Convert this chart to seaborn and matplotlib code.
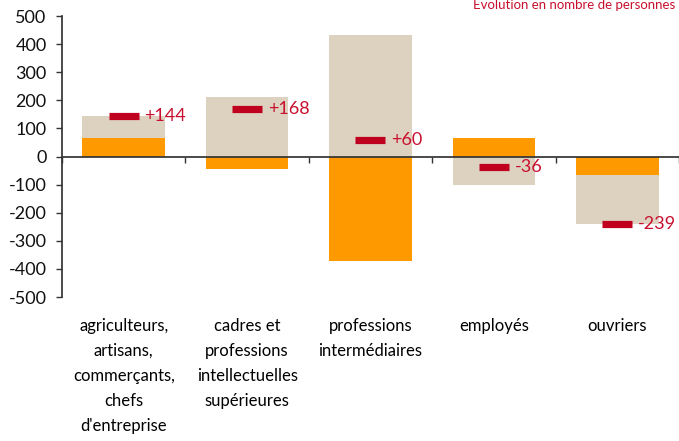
import matplotlib
matplotlib.use("Agg")
import matplotlib.pyplot as plt
import numpy as np
import seaborn as sns

# Data
categories = [
    "agriculteurs,\nartisans,\ncommerçants,\nchefs\nd'entreprise",
    "cadres et\nprofessions\nintellectuelles\nsupérieures",
    "professions\nintermédiaires",
    "employés",
    "ouvriers",
]
orange_part = [65, -45, -372, 65, -66]
beige_part = [79, 213, 432, -101, -173]
net_change = [144, 168, 60, -36, -239]
net_labels = ["+144", "+168", "+60", "-36", "-239"]
y_ticks = list(range(-500, 501, 100))

ORANGE = "#FF9900"
BEIGE = "#DDD2BF"
RED = "#C0001F"
TEXT_RED = "#C8102E"

sns.set_theme(style="white")
plt.rcParams["font.family"] = ["Lato", "DejaVu Sans"]

fig = plt.figure(figsize=(6.79, 4.41), dpi=100)
ax = fig.add_axes([0.0913, 0.3265, 0.9087, 0.6372])

# beige segment stacks on the orange one when both have the same sign
orange = np.array(orange_part)
beige = np.array(beige_part)
beige_extent = np.where(np.sign(orange) == np.sign(beige), orange + beige, beige)
pos = np.arange(len(categories))

sns.barplot(x=pos, y=beige_extent, color=BEIGE, width=0.67, saturation=1,
            linewidth=0, ax=ax, zorder=1)
sns.barplot(x=pos, y=orange, color=ORANGE, width=0.67, saturation=1,
            linewidth=0, ax=ax, zorder=2)

# net change markers
ax.plot(pos, net_change, ls="none", marker="_", ms=21.6, mew=5.2,
        color=RED, zorder=4)
for x, v, lab in zip(pos, net_change, net_labels):
    ax.annotate(lab, xy=(x, v), xytext=(15, 0), textcoords="offset points",
                ha="left", va="center", color=TEXT_RED, fontsize=13,
                zorder=5)

ax.set_xlim(-0.5, 4.5)
ax.set_ylim(-500, 500)
ax.set_yticks(y_ticks)
ax.set_yticklabels([str(t) for t in y_ticks])
ax.tick_params(axis="y", direction="out", length=4, width=1, color="#333333",
               pad=7, labelsize=13, left=True, labelcolor="#111111")

# x axis at zero with small boundary ticks
ax.spines["top"].set_visible(False)
ax.spines["right"].set_visible(False)
ax.spines["bottom"].set_position(("data", 0))
ax.spines["left"].set_color("#333333")
ax.spines["bottom"].set_color("#333333")
ax.set_xticks(pos[:-1] + 0.5, minor=False)
ax.set_xticks([-0.5, 4.5], minor=True)
ax.tick_params(axis="x", which="both", direction="out", length=4, width=1,
               color="#333333", bottom=True, labelbottom=False)
ax.set_xlabel("")
ax.set_ylabel("")

# category labels under the plot
for x, cat in zip(pos, categories):
    ax.annotate(cat, xy=(x, 0), xycoords=("data", "axes fraction"),
                xytext=(0, -15), textcoords="offset points",
                ha="center", va="top", fontsize=12, linespacing=1.7,
                color="black")

fig.text(0.994, 1 - 9 / 441, "Evolution en nombre de personnes",
         ha="right", va="baseline", fontsize=9.5, color=TEXT_RED)

fig.savefig("out.png", dpi=100)
